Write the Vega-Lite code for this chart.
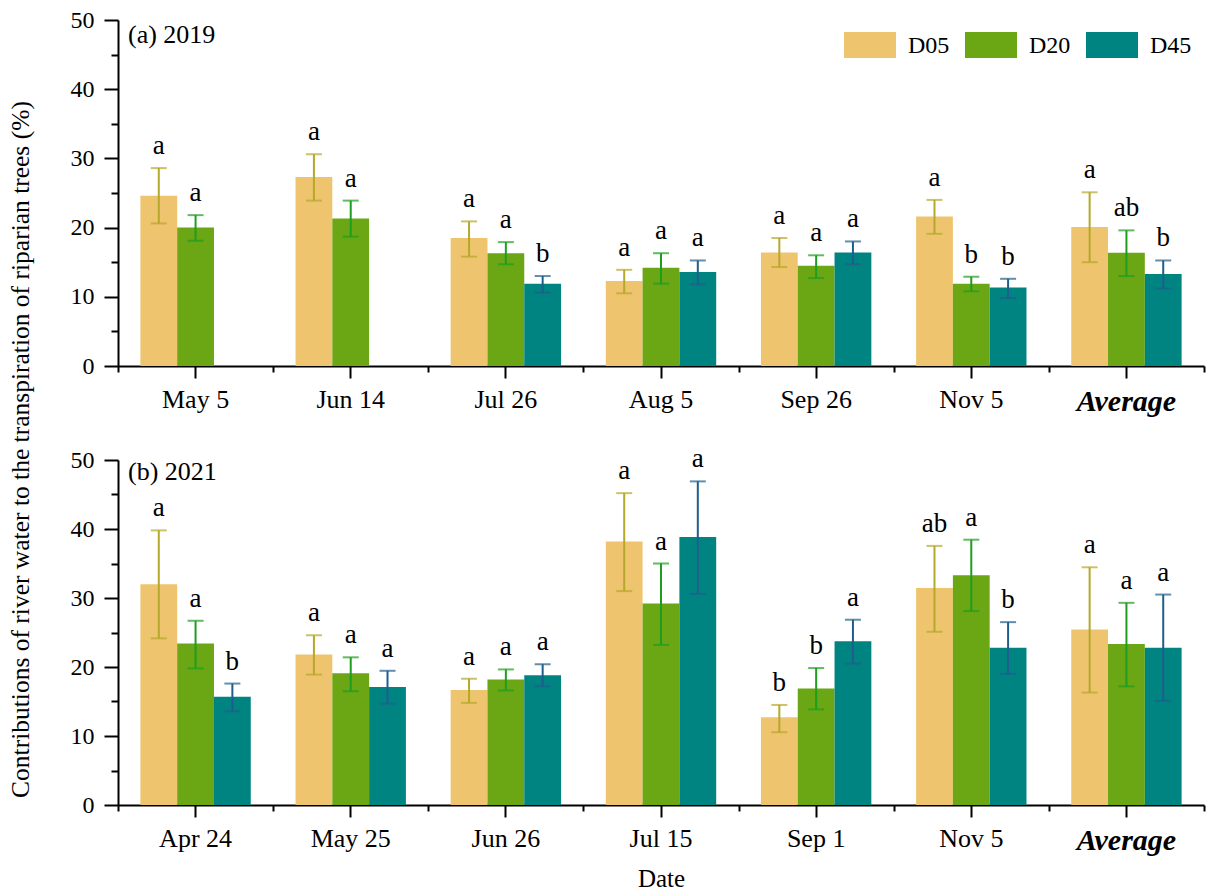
{
  "$schema": "https://vega.github.io/schema/vega-lite/v6.json",
  "padding": {"left": 8, "right": 1, "top": 8, "bottom": 0},
  "background": "white",
  "config": {
    "view": {"stroke": null},
    "font": "Liberation Serif, Times New Roman, DejaVu Serif, serif",
    "axis": {"domainColor": "black", "domainWidth": 2, "tickColor": "black", "tickWidth": 2, "labelColor": "black", "labelFont": "Liberation Serif, Times New Roman, DejaVu Serif, serif", "titleFont": "Liberation Serif, Times New Roman, DejaVu Serif, serif", "titleColor": "black", "grid": false},
    "legend": {"labelFont": "Liberation Serif, Times New Roman, DejaVu Serif, serif"},
    "title": {"font": "Liberation Serif, Times New Roman, DejaVu Serif, serif"},
    "text": {"font": "Liberation Serif, Times New Roman, DejaVu Serif, serif"}
  },
  "title": {"text": "Contributions of river water to the transpiration of  riparian trees (%)", "orient": "left", "anchor": "middle", "font": "Liberation Serif, Times New Roman, DejaVu Serif, serif", "fontSize": 25.5, "fontWeight": "normal", "color": "black", "offset": 36},
  "datasets": {
    "y2019": [
      {"date": "May 5", "depth": "D05", "mean": 24.6, "lo": 20.6, "hi": 28.6, "sig": "a"},
      {"date": "May 5", "depth": "D20", "mean": 20.0, "lo": 18.1, "hi": 21.8, "sig": "a"},
      {"date": "Jun 14", "depth": "D05", "mean": 27.3, "lo": 23.9, "hi": 30.6, "sig": "a"},
      {"date": "Jun 14", "depth": "D20", "mean": 21.3, "lo": 18.7, "hi": 23.9, "sig": "a"},
      {"date": "Jul 26", "depth": "D05", "mean": 18.5, "lo": 15.8, "hi": 20.9, "sig": "a"},
      {"date": "Jul 26", "depth": "D20", "mean": 16.3, "lo": 14.7, "hi": 17.9, "sig": "a"},
      {"date": "Jul 26", "depth": "D45", "mean": 11.9, "lo": 10.6, "hi": 13.0, "sig": "b"},
      {"date": "Aug 5", "depth": "D05", "mean": 12.3, "lo": 10.5, "hi": 13.9, "sig": "a"},
      {"date": "Aug 5", "depth": "D20", "mean": 14.2, "lo": 11.9, "hi": 16.3, "sig": "a"},
      {"date": "Aug 5", "depth": "D45", "mean": 13.6, "lo": 11.8, "hi": 15.25, "sig": "a"},
      {"date": "Sep 26", "depth": "D05", "mean": 16.4, "lo": 14.3, "hi": 18.5, "sig": "a"},
      {"date": "Sep 26", "depth": "D20", "mean": 14.5, "lo": 12.7, "hi": 16.0, "sig": "a"},
      {"date": "Sep 26", "depth": "D45", "mean": 16.4, "lo": 14.7, "hi": 18.0, "sig": "a"},
      {"date": "Nov 5", "depth": "D05", "mean": 21.6, "lo": 19.1, "hi": 24.0, "sig": "a"},
      {"date": "Nov 5", "depth": "D20", "mean": 11.9, "lo": 10.8, "hi": 12.9, "sig": "b"},
      {"date": "Nov 5", "depth": "D45", "mean": 11.35, "lo": 9.8, "hi": 12.6, "sig": "b"},
      {"date": "Average", "depth": "D05", "mean": 20.1, "lo": 15.0, "hi": 25.1, "sig": "a"},
      {"date": "Average", "depth": "D20", "mean": 16.35, "lo": 13.0, "hi": 19.6, "sig": "ab"},
      {"date": "Average", "depth": "D45", "mean": 13.3, "lo": 11.2, "hi": 15.25, "sig": "b"}
    ],
    "y2021": [
      {"date": "Apr 24", "depth": "D05", "mean": 32.0, "lo": 24.15, "hi": 39.8, "sig": "a"},
      {"date": "Apr 24", "depth": "D20", "mean": 23.4, "lo": 19.8, "hi": 26.7, "sig": "a"},
      {"date": "Apr 24", "depth": "D45", "mean": 15.7, "lo": 13.6, "hi": 17.6, "sig": "b"},
      {"date": "May 25", "depth": "D05", "mean": 21.8, "lo": 18.9, "hi": 24.6, "sig": "a"},
      {"date": "May 25", "depth": "D20", "mean": 19.1, "lo": 16.5, "hi": 21.4, "sig": "a"},
      {"date": "May 25", "depth": "D45", "mean": 17.1, "lo": 14.7, "hi": 19.45, "sig": "a"},
      {"date": "Jun 26", "depth": "D05", "mean": 16.65, "lo": 14.8, "hi": 18.3, "sig": "a"},
      {"date": "Jun 26", "depth": "D20", "mean": 18.2, "lo": 16.6, "hi": 19.65, "sig": "a"},
      {"date": "Jun 26", "depth": "D45", "mean": 18.8, "lo": 17.2, "hi": 20.4, "sig": "a"},
      {"date": "Jul 15", "depth": "D05", "mean": 38.2, "lo": 31.0, "hi": 45.2, "sig": "a"},
      {"date": "Jul 15", "depth": "D20", "mean": 29.2, "lo": 23.2, "hi": 35.0, "sig": "a"},
      {"date": "Jul 15", "depth": "D45", "mean": 38.85, "lo": 30.6, "hi": 46.9, "sig": "a"},
      {"date": "Sep 1", "depth": "D05", "mean": 12.7, "lo": 10.55, "hi": 14.5, "sig": "b"},
      {"date": "Sep 1", "depth": "D20", "mean": 16.9, "lo": 13.85, "hi": 19.85, "sig": "b"},
      {"date": "Sep 1", "depth": "D45", "mean": 23.75, "lo": 20.5, "hi": 26.85, "sig": "a"},
      {"date": "Nov 5", "depth": "D05", "mean": 31.45, "lo": 25.1, "hi": 37.55, "sig": "ab"},
      {"date": "Nov 5", "depth": "D20", "mean": 33.3, "lo": 28.1, "hi": 38.45, "sig": "a"},
      {"date": "Nov 5", "depth": "D45", "mean": 22.8, "lo": 19.0, "hi": 26.5, "sig": "b"},
      {"date": "Average", "depth": "D05", "mean": 25.45, "lo": 16.3, "hi": 34.45, "sig": "a"},
      {"date": "Average", "depth": "D20", "mean": 23.35, "lo": 17.2, "hi": 29.3, "sig": "a"},
      {"date": "Average", "depth": "D45", "mean": 22.8, "lo": 15.1, "hi": 30.5, "sig": "a"}
    ]
  },
  "spacing": 29,
  "vconcat": [
    {
      "width": 1086, "height": 346,
      "data": {"name": "y2019"},
      "title": {"text": "(a) 2019", "anchor": "start", "frame": "group", "offset": -61, "dx": 10, "fontSize": 26, "fontWeight": "normal", "color": "black", "baseline": "alphabetic"},
      "resolve": {"axis": {"x": "independent", "y": "independent"}, "scale": {"color": "independent"}},
      "layer": [
        {
          "mark": {"type": "bar"},
          "encoding": {
            "x": {"field": "date", "type": "nominal", "sort": null, "scale": {"paddingInner": 0, "paddingOuter": 0},
                  "axis": {"orient": "bottom", "title": null, "tickSize": 12, "labelPadding": 8, "labelAngle": 0,
                           "labelFontSize": {"condition": {"test": "datum.value == 'Average'", "value": 30}, "value": 26},
                           "labelFontWeight": {"condition": {"test": "datum.value == 'Average'", "value": "bold"}, "value": "normal"},
                           "labelFontStyle": {"condition": {"test": "datum.value == 'Average'", "value": "italic"}, "value": "normal"}}},
            "xOffset": {"field": "depth", "type": "nominal", "scale": {"domain": ["D05", "D20", "D45"], "paddingInner": 0, "paddingOuter": 0.608}},
            "y": {"field": "mean", "type": "quantitative", "scale": {"domain": [0, 50], "nice": false},
                  "axis": {"orient": "left", "title": null, "values": [0, 10, 20, 30, 40, 50], "tickSize": 14, "labelFontSize": 24, "labelPadding": 10}},
            "color": {"field": "depth", "type": "nominal", "scale": {"domain": ["D05", "D20", "D45"], "range": ["#EEC56E", "#6BA614", "#008482"]},
                      "legend": {"title": null, "orient": "top-right", "direction": "horizontal", "offset": 12, "padding": 0,
                                 "symbolType": "M-1,-1H1V0H-1Z", "symbolSize": 2704, "symbolStrokeWidth": 0, "symbolOpacity": 1,
                                 "labelFontSize": 24, "labelColor": "black", "labelOffset": 12, "labelBaseline": "bottom", "columnPadding": 15}}
          }
        },
        {
          "encoding": {
            "x": {"field": "date", "type": "nominal", "sort": null},
            "xOffset": {"field": "depth", "type": "nominal"},
            "color": {"field": "depth", "type": "nominal", "scale": {"domain": ["D05", "D20", "D45"], "range": ["#B5A82A", "#1E9E1E", "#1F5E8C"]}, "legend": null}
          },
          "layer": [
            {
              "mark": {"type": "rule", "strokeWidth": 2},
              "encoding": {
                "x": {"field": "date", "type": "nominal", "sort": null,
                      "axis": {"orient": "bottom", "title": null, "labels": false, "domain": false, "tickBand": "extent", "tickSize": 6}},
                "y": {"field": "lo", "type": "quantitative",
                      "axis": {"orient": "left", "title": null, "labels": false, "domain": false, "values": [5, 15, 25, 35, 45], "tickSize": 7}},
                "y2": {"field": "hi"}
              }
            },
            {
              "mark": {"type": "tick", "orient": "horizontal", "size": 16, "thickness": 2},
              "encoding": {"y": {"field": "hi", "type": "quantitative"}}
            },
            {
              "mark": {"type": "tick", "orient": "horizontal", "size": 16, "thickness": 2},
              "encoding": {"y": {"field": "lo", "type": "quantitative"}}
            }
          ]
        },
        {
          "mark": {"type": "text", "baseline": "alphabetic", "dy": -14, "fontSize": 27, "color": "black", "font": "Liberation Serif, Times New Roman, DejaVu Serif, serif"},
          "encoding": {
            "x": {"field": "date", "type": "nominal", "sort": null, "axis": null},
            "xOffset": {"field": "depth", "type": "nominal"},
            "y": {"field": "hi", "type": "quantitative", "axis": null},
            "text": {"field": "sig"}
          }
        }
      ]
    },
    {
      "width": 1086, "height": 345,
      "data": {"name": "y2021"},
      "title": {"text": "(b) 2021", "anchor": "start", "frame": "group", "offset": -61, "dx": 10, "fontSize": 26, "fontWeight": "normal", "color": "black", "baseline": "alphabetic"},
      "resolve": {"axis": {"x": "independent", "y": "independent"}, "scale": {"color": "independent"}},
      "layer": [
        {
          "mark": {"type": "bar"},
          "encoding": {
            "x": {"field": "date", "type": "nominal", "sort": null, "scale": {"paddingInner": 0, "paddingOuter": 0},
                  "axis": {"orient": "bottom", "title": "Date", "titleFontSize": 25, "titleFontWeight": "normal", "titlePadding": 11, "tickSize": 12, "labelPadding": 8, "labelAngle": 0,
                           "labelFontSize": {"condition": {"test": "datum.value == 'Average'", "value": 30}, "value": 26},
                           "labelFontWeight": {"condition": {"test": "datum.value == 'Average'", "value": "bold"}, "value": "normal"},
                           "labelFontStyle": {"condition": {"test": "datum.value == 'Average'", "value": "italic"}, "value": "normal"}}},
            "xOffset": {"field": "depth", "type": "nominal", "scale": {"domain": ["D05", "D20", "D45"], "paddingInner": 0, "paddingOuter": 0.608}},
            "y": {"field": "mean", "type": "quantitative", "scale": {"domain": [0, 50], "nice": false},
                  "axis": {"orient": "left", "title": null, "values": [0, 10, 20, 30, 40, 50], "tickSize": 14, "labelFontSize": 24, "labelPadding": 10}},
            "color": {"field": "depth", "type": "nominal", "scale": {"domain": ["D05", "D20", "D45"], "range": ["#EEC56E", "#6BA614", "#008482"]}, "legend": null}
          }
        },
        {
          "encoding": {
            "x": {"field": "date", "type": "nominal", "sort": null},
            "xOffset": {"field": "depth", "type": "nominal"},
            "color": {"field": "depth", "type": "nominal", "scale": {"domain": ["D05", "D20", "D45"], "range": ["#B5A82A", "#1E9E1E", "#1F5E8C"]}, "legend": null}
          },
          "layer": [
            {
              "mark": {"type": "rule", "strokeWidth": 2},
              "encoding": {
                "x": {"field": "date", "type": "nominal", "sort": null,
                      "axis": {"orient": "bottom", "title": null, "labels": false, "domain": false, "tickBand": "extent", "tickSize": 6}},
                "y": {"field": "lo", "type": "quantitative",
                      "axis": {"orient": "left", "title": null, "labels": false, "domain": false, "values": [5, 15, 25, 35, 45], "tickSize": 7}},
                "y2": {"field": "hi"}
              }
            },
            {
              "mark": {"type": "tick", "orient": "horizontal", "size": 16, "thickness": 2},
              "encoding": {"y": {"field": "hi", "type": "quantitative"}}
            },
            {
              "mark": {"type": "tick", "orient": "horizontal", "size": 16, "thickness": 2},
              "encoding": {"y": {"field": "lo", "type": "quantitative"}}
            }
          ]
        },
        {
          "mark": {"type": "text", "baseline": "alphabetic", "dy": -14, "fontSize": 27, "color": "black", "font": "Liberation Serif, Times New Roman, DejaVu Serif, serif"},
          "encoding": {
            "x": {"field": "date", "type": "nominal", "sort": null, "axis": null},
            "xOffset": {"field": "depth", "type": "nominal"},
            "y": {"field": "hi", "type": "quantitative", "axis": null},
            "text": {"field": "sig"}
          }
        }
      ]
    }
  ]
}
